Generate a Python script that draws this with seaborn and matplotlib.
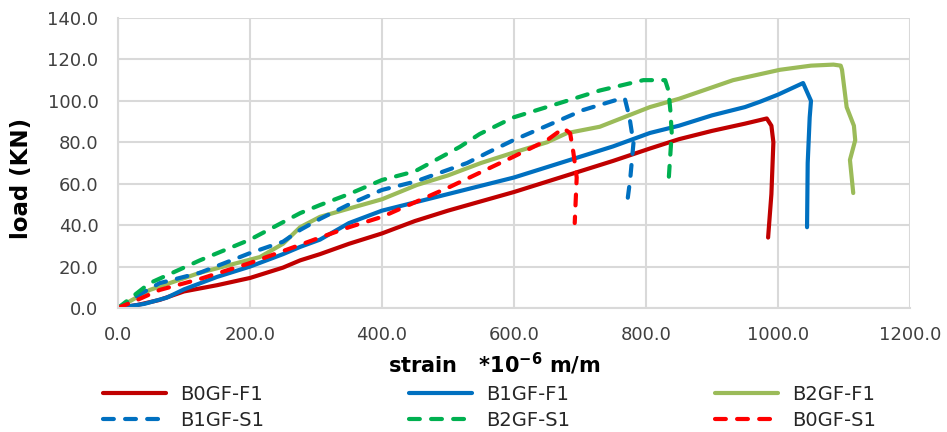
import matplotlib
matplotlib.use("Agg")
import matplotlib.pyplot as plt
import seaborn as sns
import pandas as pd

# ---- data ----
b0f1_x = [0, 30, 63, 100, 150, 200, 250, 276, 306, 350, 400, 450, 500, 550, 600, 650, 700, 750, 806, 850, 900, 950, 983, 990, 993, 990, 985]
b0f1_y = [0, 1.5, 3.9, 8, 11, 14.5, 19.5, 23, 26, 31, 36, 42, 47, 51.5, 56, 61, 66, 71, 77, 81.5, 85.5, 89, 91.5, 88, 80, 55, 34]

b1f1_x = [0, 40, 74, 100, 150, 200, 250, 276, 306, 350, 400, 450, 500, 550, 600, 650, 700, 750, 806, 850, 900, 950, 973, 1000, 1038, 1050, 1048, 1045, 1044]
b1f1_y = [0, 2, 5, 9, 15, 20, 26, 29.5, 33, 41, 47, 51, 55, 59, 63, 68, 73, 78, 84.5, 88, 93, 97, 99.6, 103, 108.6, 100, 92, 70, 39]

b2f1_x = [0, 48, 124, 215, 250, 276, 306, 350, 400, 453, 500, 550, 599, 650, 680, 730, 806, 850, 932, 1003, 1050, 1084, 1095, 1097, 1104, 1115, 1117, 1109, 1114]
b2f1_y = [0, 8.7, 17, 24.6, 31, 39, 44, 48, 52.5, 59.4, 64, 70, 75, 80, 84.4, 87.5, 97, 101, 110, 115, 117, 117.5, 117, 115, 97, 88, 81, 71.5, 55.5]

b1s1_x = [0, 30, 63, 124, 200, 250, 276, 306, 350, 400, 450, 529, 560, 599, 650, 705, 740, 761, 768, 775, 781, 776, 771]
b1s1_y = [0, 6, 12, 17, 26.5, 32, 37.7, 43, 50, 57, 61, 70, 75, 81, 88, 95.6, 99, 101, 101, 92, 79.6, 62, 49.7]

b2s1_x = [0, 20, 48, 124, 200, 276, 306, 350, 400, 450, 518, 548, 599, 680, 730, 796, 829, 834, 837, 839, 836, 834]
b2s1_y = [0, 5, 12, 23, 33, 45.8, 49.7, 55, 61.8, 66, 77.8, 84, 92, 100, 105, 110, 110, 105, 95, 84.4, 70, 60]

b0s1_x = [0, 30, 63, 124, 200, 276, 306, 350, 400, 503, 599, 650, 675, 685, 690, 695, 692]
b0s1_y = [0, 4, 8.7, 14, 21.7, 30.5, 34, 39, 44, 58.5, 73, 81, 86.8, 84.4, 75, 63, 41]

series_names = ["B0GF-F1", "B1GF-F1", "B2GF-F1", "B1GF-S1", "B2GF-S1", "B0GF-S1"]
series_x = [b0f1_x, b1f1_x, b2f1_x, b1s1_x, b2s1_x, b0s1_x]
series_y = [b0f1_y, b1f1_y, b2f1_y, b1s1_y, b2s1_y, b0s1_y]
colors = ["#C00000", "#0070C0", "#9BBB59", "#0070C0", "#00B050", "#FF0000"]
dashed = [False, False, False, True, True, True]

x_ticks = [0, 200, 400, 600, 800, 1000, 1200]
y_ticks = [0, 20, 40, 60, 80, 100, 120, 140]

sns.set_theme(style="white")
plt.rcParams["font.family"] = ["DejaVu Sans"]

fig = plt.figure(figsize=(9.47, 4.32), dpi=100)
ax = fig.add_axes([118 / 947, 1 - 308 / 432, 792 / 947, 290 / 432])

grid_c = "#D9D9D9"
lw = 3.0
handles = {}
for name, xs, ys, c, d in zip(series_names, series_x, series_y, colors, dashed):
    df = pd.DataFrame({"strain": xs, "load": ys})
    kw = dict(color=c, linewidth=lw, solid_capstyle="round", solid_joinstyle="round",
              dash_capstyle="round", dash_joinstyle="round")
    if d:
        kw["linestyle"] = (0, (2.6, 2.7))
    sns.lineplot(data=df, x="strain", y="load", sort=False, estimator=None, ax=ax, **kw)
    handles[name] = ax.lines[-1]

ax.set_xlim(0, 1200)
ax.set_ylim(0, 140)
ax.set_xticks(x_ticks)
ax.set_yticks(y_ticks)
ax.set_xticklabels([f"{v:.1f}" for v in x_ticks])
ax.set_yticklabels([f"{v:.1f}" for v in y_ticks])
ax.grid(True, color=grid_c, linewidth=1.5)
ax.set_axisbelow(True)
for s in ["top", "right"]:
    ax.spines[s].set_visible(False)
for s in ["left", "bottom"]:
    ax.spines[s].set_color(grid_c)
    ax.spines[s].set_linewidth(1.5)
ax.tick_params(axis="both", which="both", length=5, width=1.5, color=grid_c,
               labelsize=13, labelcolor="#404040", direction="out")
ax.tick_params(axis="x", pad=8)
ax.tick_params(axis="y", pad=9)

ax.set_xlabel(r"strain   *10$^{\mathregular{-6}}$ m/m", fontsize=15, fontweight="bold", color="black")
ax.set_ylabel("load (KN)", fontsize=16.5, fontweight="bold", color="black")
ax.xaxis.set_label_coords((494 - 118) / 792, -(351 - 308) / 290)
ax.yaxis.set_label_coords(-(118 - 33) / 792, (308 - 178) / 290)

order = ["B0GF-F1", "B1GF-S1", "B1GF-F1", "B2GF-S1", "B2GF-F1", "B0GF-S1"]
leg = fig.legend([handles[n] for n in order], order, loc="upper left",
                 bbox_to_anchor=(103 / 947, 1 - 385 / 432), bbox_transform=fig.transFigure,
                 ncol=3, frameon=False, fontsize=14, handlelength=3.25, handletextpad=0.72,
                 columnspacing=7.45, labelspacing=0.35, borderpad=0, borderaxespad=0)
for t in leg.get_texts():
    t.set_color("#262626")

fig.savefig("out.png", dpi=100)
